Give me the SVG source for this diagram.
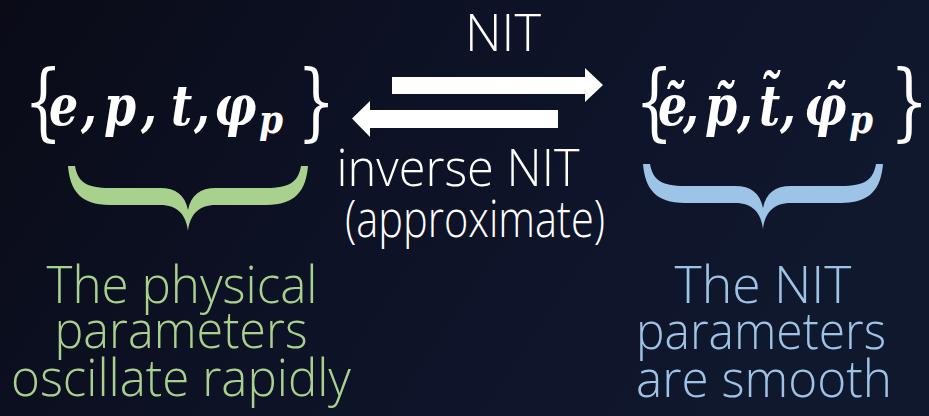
<svg xmlns="http://www.w3.org/2000/svg" width="929" height="416" viewBox="0 0 929 416">
  <defs>
    <linearGradient id="bg" x1="0" y1="0" x2="1" y2="0.3">
      <stop offset="0" stop-color="#0a0b17"/>
      <stop offset="0.5" stop-color="#0d1226"/>
      <stop offset="1" stop-color="#10182e"/>
    </linearGradient>
    <path id="brace" d="M 68 166 C 70 190 80 205 110 205 L 160 205 C 178 205 186 215 188 231 C 190 215 198 205 216 205 L 266 205 C 296 205 306 190 308 166 L 301 166 C 298 182 290 188 266 188 L 216 188 C 200 188 191 195 188 210 C 185 195 176 188 160 188 L 110 188 C 86 188 78 182 75 166 Z"/>
    <style>
      .math { font-family: "DejaVu Serif", "Liberation Serif", serif; font-weight: bold; font-style: italic; font-size: 56px; fill: #ffffff; }
      .sub { font-size: 40px; }
      .br { font-family: "DejaVu Serif", "Liberation Serif", serif; font-weight: normal; font-style: normal; font-size: 84px; fill: #ffffff; }
      .sans { font-family: "Open Sans", "Segoe UI", "Noto Sans", sans-serif; font-weight: 300; font-size: 52px; text-anchor: middle; }
      .white { fill: #ffffff; }
      .green { fill: #a9d18e; }
      .blue { fill: #9dc3e6; }
      .arrow { fill: #ffffff; }
    </style>
  </defs>
  <rect width="929" height="416" fill="url(#bg)"/>

  <g id="physical-set">
    <text class="br" transform="translate(24 130) scale(0.72 1)">{</text>
    <text class="math" transform="translate(49 125) scale(0.82 1)">e</text>
    <text class="math" transform="translate(81 125) scale(0.82 1)">,</text>
    <text class="math" transform="translate(104 125) scale(0.82 1)">p</text>
    <text class="math" transform="translate(141 125) scale(0.82 1)">,</text>
    <text class="math" transform="translate(171 125) scale(0.82 1)">t</text>
    <text class="math" transform="translate(194 125) scale(0.82 1)">,</text>
    <text class="math" transform="translate(214 125) scale(0.84 1)">φ</text>
    <text class="math sub" transform="translate(259 133) scale(0.86 1)">p</text>
    <text class="br" transform="translate(297 130) scale(0.72 1)">}</text>
  </g>

  <g id="nit-set">
    <text class="br" transform="translate(635 130) scale(0.72 1)">{</text>
    <text class="math" transform="translate(658 125) scale(0.82 1)">e&#x303;</text>
    <text class="math" transform="translate(683 125) scale(0.82 1)">,</text>
    <text class="math" transform="translate(705 125) scale(0.82 1)">p&#x303;</text>
    <text class="math" transform="translate(737 125) scale(0.82 1)">,</text>
    <text class="math" transform="translate(759 125) scale(0.82 1)">t&#x303;</text>
    <text class="math" transform="translate(780 125) scale(0.82 1)">,</text>
    <text class="math" transform="translate(804 125) scale(0.84 1)">φ&#x303;</text>
    <text class="math sub" transform="translate(849 133) scale(0.86 1)">p</text>
    <text class="br" transform="translate(890 130) scale(0.72 1)">}</text>
  </g>

  <g id="connectors">
    <polygon class="arrow" points="392,77 585,77 585,68 603,85 585,102 585,94 392,94"/>
    <polygon class="arrow" points="558,110 370,110 370,101 352,118.5 370,137 370,128 558,128"/>
  </g>

  <g id="nit-label">
    <text class="sans white" x="503" y="51" textLength="76" lengthAdjust="spacingAndGlyphs">NIT</text>
  </g>
  <g id="inverse-label">
    <text class="sans white" x="458" y="186" textLength="243" lengthAdjust="spacingAndGlyphs">inverse NIT</text>
    <text class="sans white" x="475" y="237" textLength="260" lengthAdjust="spacingAndGlyphs">(approximate)</text>
  </g>

  <g id="physical-brace">
    <use href="#brace" fill="#a9d18e"/>
  </g>
  <g id="nit-brace">
    <use href="#brace" fill="#9dc3e6" transform="translate(575 -2)"/>
  </g>

  <g id="physical-caption">
    <text class="sans green" x="182" y="303" textLength="271" lengthAdjust="spacingAndGlyphs">The physical</text>
    <text class="sans green" x="181" y="348" textLength="253" lengthAdjust="spacingAndGlyphs">parameters</text>
    <text class="sans green" x="181" y="396" textLength="340" lengthAdjust="spacingAndGlyphs">oscillate rapidly</text>
  </g>
  <g id="nit-caption">
    <text class="sans blue" x="763" y="303" textLength="177" lengthAdjust="spacingAndGlyphs">The NIT</text>
    <text class="sans blue" x="761" y="349" textLength="250" lengthAdjust="spacingAndGlyphs">parameters</text>
    <text class="sans blue" x="764" y="397" textLength="256" lengthAdjust="spacingAndGlyphs">are smooth</text>
  </g>
</svg>
